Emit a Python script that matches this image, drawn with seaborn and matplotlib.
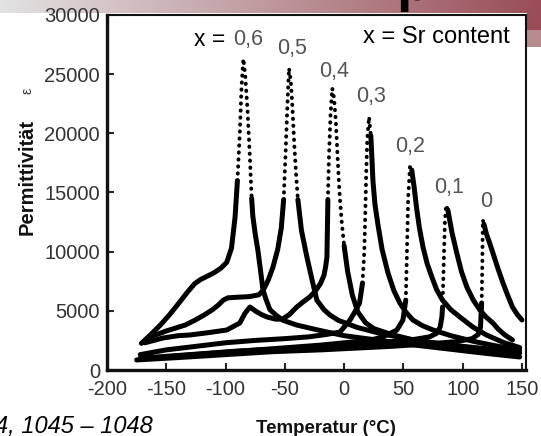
import numpy as np
import matplotlib
matplotlib.use("Agg")
import matplotlib.pyplot as plt
import seaborn as sns

# ── data (T in °C, permittivity) ─────────────────────────────────────────────

T_06 = [-171, -163, -155, -147, -139, -132, -126, -121, -116, -110, -104, -99, -95, -92,
        -90, -88, -86.5, -85, -83.5, -81.5, -79.5, -78, -77, -75, -72.7, -70, -68.5, -66,
        -62.6, -57, -51.6, -40, -23, 0, 30, 60, 90, 120, 148]
eps_06 = [2250, 3000, 3800, 4700, 5700, 6600, 7300, 7650, 7900, 8200, 8600, 9100, 10300, 12900,
          16000, 20000, 24000, 26300, 25000, 22000, 18000, 14500, 13000, 11500, 10100, 8000, 6800, 6000,
          5100, 4600, 4200, 3800, 3400, 2900, 2500, 2100, 1750, 1400, 1100]

T_05 = [-166, -158, -150, -142, -134, -126, -118, -111, -106, -102, -98, -90, -80, -72,
        -68.5, -64, -60, -56, -53, -51, -49.5, -48, -46.5, -45, -43.5, -42, -40.5, -39,
        -36, -31.4, -27, -23, -17, -12, -5, 11, 30, 60, 90, 120, 148]
eps_05 = [2700, 3000, 3300, 3550, 3800, 4200, 4650, 5100, 5500, 5900, 6100, 6150, 6200, 6350,
          6700, 7600, 8700, 10200, 12000, 14400, 18000, 22000, 25500, 24500, 22000, 19000, 16500, 14400,
          11800, 9550, 7600, 5900, 5100, 4650, 4200, 3600, 3100, 2500, 2100, 1700, 1400]

T_04 = [-168, -153, -140, -130, -115, -99, -88, -83.6, -79.4, -75, -70, -65, -58, -52, -46,
        -40, -34, -29, -24, -20, -17, -15.5, -14.5, -13.7, -12.8, -11.5, -10, -8.5, -7, -5.5,
        -4.5, -3.5, -2, 0, 3, 7, 11.6, 18, 25, 40, 60, 90, 120, 148]
eps_04 = [2300, 2700, 2900, 2960, 3150, 3380, 3970, 4800, 5320, 5000, 4700, 4480, 4300, 4300, 4700,
          5320, 5800, 6170, 6700, 7300, 8000, 8800, 9550, 14400, 18000, 21500, 23800, 23000, 21000, 18000,
          16000, 14400, 12500, 10500, 8300, 6300, 4900, 4000, 3500, 3000, 2500, 2100, 1800, 1500]

T_03 = [-172, -150, -125, -100, -75, -50, -30, -15, -3.5, 5, 9, 13, 15.5, 17, 17.8, 18.6,
        19.5, 21, 22.5, 23.4, 24.3, 26, 28.5, 32, 37, 42, 47, 52, 58, 66, 75, 90, 110, 130, 148]
eps_03 = [1300, 1700, 2000, 2300, 2500, 2650, 2800, 3000, 3210, 4225, 4900, 5660, 7350, 10000, 13000, 16500,
          19500, 21380, 19800, 18000, 16000, 14000, 12300, 10200, 8200, 6700, 5660, 4900, 4225, 3750, 3380,
          2900, 2400, 2000, 1700]

T_02 = [-172, -140, -100, -60, -20, 10, 25, 32.7, 38, 44.5, 49.6, 52, 53, 54, 55.5, 57, 59,
        61, 63.5, 66.5, 70, 74, 78, 83, 90, 97.6, 108.6, 120, 135, 148]
eps_02 = [900, 1200, 1500, 1800, 2100, 2400, 2600, 2790, 3050, 3380, 4225, 5900, 10000, 14500, 17150, 16900, 15500,
          13770, 12000, 10400, 9000, 7860, 6800, 5900, 5100, 4480, 3630, 2960, 2300, 1900]

T_01 = [-172, -130, -90, -50, -10, 30, 60, 72, 78, 81, 82.5, 83, 84, 85, 86, 87.5, 91, 95,
        99, 103.5, 109, 114.5, 120, 125.5, 130, 135.6, 142]
eps_01 = [1000, 1300, 1600, 1800, 2000, 2300, 2600, 2800, 3100, 3630, 4500, 5320, 9000, 12500, 13940, 13520, 11600, 9890,
          8300, 7010, 5900, 5070, 4450, 3970, 3450, 2960, 2535]

T_00 = [-175, -140, -100, -60, -20, 10, 40, 70, 95, 108, 113, 115, 116, 116.5, 117, 118, 120,
        122.5, 125.5, 130, 134, 138, 142, 146, 150]
eps_00 = [850, 1050, 1300, 1550, 1700, 1850, 2000, 2200, 2400, 2650, 3000, 3600, 5660, 8620, 12675, 12300, 11500,
          10800, 9890, 8500, 7350, 6300, 5320, 4700, 4225]

# curve name, label text, label position (T, eps), dotted-above thresholds (left, right)
series = [
    ("0.6", T_06, eps_06, "0,6", (-81, 27900), 15000, 14000),
    ("0.5", T_05, eps_05, "0,5", (-44, 27200), 12500, 12500),
    ("0.4", T_04, eps_04, "0,4", (-8.6, 25200), 10000, 10000),
    ("0.3", T_03, eps_03, "0,3", (22.6, 23100), 7000, 19000),
    ("0.2", T_02, eps_02, "0,2", (55.5, 18850), 5500, 16000),
    ("0.1", T_01, eps_01, "0,1", (88.4, 15400), 5000, 13000),
    ("0", T_00, eps_00, "0", (119.6, 14200), 4500, 12000),
]

y_ticks = [0, 5000, 10000, 15000, 20000, 25000, 30000]
x_ticks = [-200, -150, -100, -50, 0, 50, 100, 150]

# ── figure ───────────────────────────────────────────────────────────────────

sns.set_theme(style="ticks")
plt.rcParams["font.family"] = ["Liberation Sans", "DejaVu Sans"]
plt.rcParams["axes.unicode_minus"] = False

W, H = 541, 436
fig = plt.figure(figsize=(W / 100, H / 100), dpi=100)

# slide banner behind the chart
ban = fig.add_axes([0, 1 - 13 / H, 1, 13 / H], zorder=0)
grad = np.linspace(0, 1, 256)
c0 = np.array([0.89, 0.89, 0.89])
c1 = np.array([0.60, 0.30, 0.34])
ban.imshow((c0[None, :] * (1 - grad[:, None]) + c1[None, :] * grad[:, None])[None, :, :],
           aspect="auto", extent=[0, 1, 0, 1])
ban.set_axis_off()
side = fig.add_axes([527 / W, 1 - 47 / H, 14 / W, 34 / H], zorder=0)
side.imshow(np.array([[c1], [[0.72, 0.55, 0.57]]]), aspect="auto", extent=[0, 1, 0, 1])
side.set_axis_off()
fig.text(396 / W, 1.0, "p", fontsize=40, weight="bold", va="baseline", color="black")

ax = fig.add_axes([107 / W, 66 / H, 419 / W, 355 / H], zorder=2)
ax.set_facecolor("white")

for name, T, eps, lab, (lx, ly), cut_l, cut_r in series:
    T = np.asarray(T, float)
    e = np.asarray(eps, float)
    k = int(np.argmax(e))
    left = np.where(e[:k + 1] >= cut_l)[0]
    i0 = left[0] if len(left) else k
    right = np.where(e[k:] >= cut_r)[0]
    j0 = k + (right[-1] if len(right) else 0)
    sns.lineplot(x=T[:i0 + 1], y=e[:i0 + 1], sort=False, estimator=None, color="black",
                 lw=3.6, solid_capstyle="round", ax=ax)
    sns.lineplot(x=T[j0:], y=e[j0:], sort=False, estimator=None, color="black",
                 lw=3.6, solid_capstyle="round", ax=ax)
    ax.plot(T[i0:j0 + 1], e[i0:j0 + 1], color="black", lw=2.8,
            linestyle=(0, (0.1, 1.7)), dash_capstyle="round")
    ax.text(lx, ly, lab, fontsize=15.5, color="#555555", ha="center", va="center")

ax.text(-100.5, 27900, "x =", fontsize=16.5, color="black", ha="right", va="center")
ax.text(77.4, 28150, "x = Sr content", fontsize=17, color="black", ha="center", va="center")

ax.set_xlim(-200, 153.4)
ax.set_ylim(0, 30000)
ax.set_xticks(x_ticks)
ax.set_yticks(y_ticks)
ax.set_xlabel("")
ax.set_ylabel("")
ax.tick_params(direction="in", length=5, width=1.5, labelsize=14.5, labelcolor="#333333")
ax.tick_params(axis="x", pad=7)
ax.tick_params(axis="y", pad=5)
for s in ["left", "bottom"]:
    ax.spines[s].set_linewidth(2.4)
for s in ["top", "right"]:
    ax.spines[s].set_linewidth(1.5)
for s in ax.spines.values():
    s.set_color("#111111")

fig.text(27 / W, 1 - 177 / H, "Permittivität", rotation=90, fontsize=14.5, weight="bold",
         ha="center", va="center", color="#111111")
fig.text(28 / W, 1 - 91 / H, "ε", rotation=90, fontsize=10, ha="center", va="center",
         color="#333333")
fig.text(326 / W, 1 - 428 / H, "Temperatur (°C)", fontsize=13.5, weight="bold",
         ha="center", va="center", color="#111111")
fig.text(-5 / W, 3 / H, "4, 1045 – 1048", fontsize=17, style="italic", va="baseline",
         color="black")

fig.savefig("out.png", dpi=100)
